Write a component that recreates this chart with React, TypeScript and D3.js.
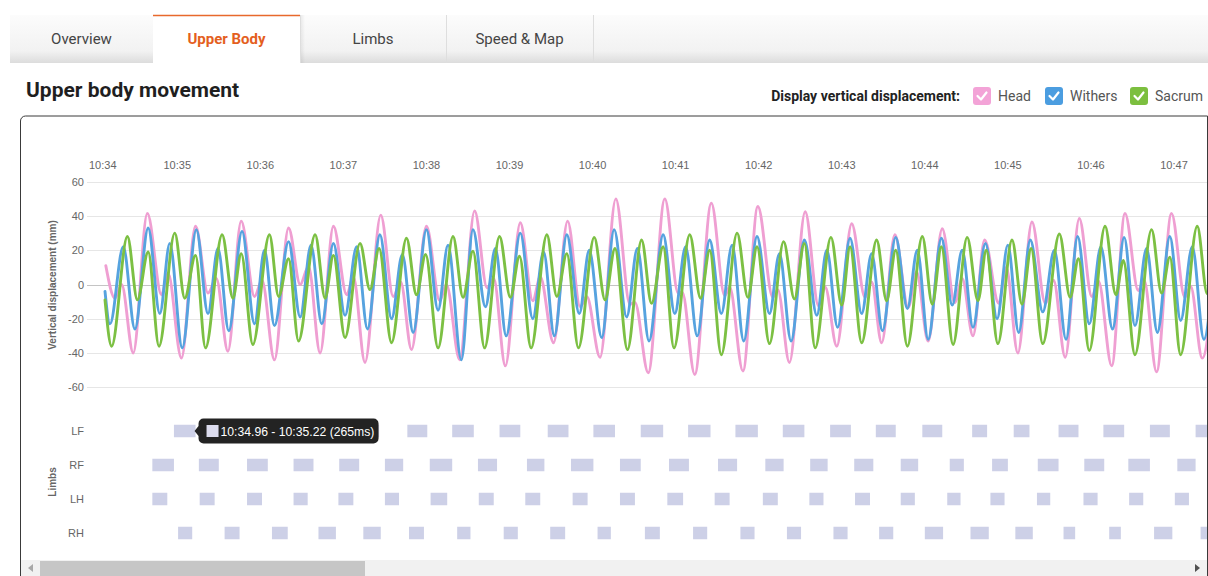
import React from 'react';
import * as d3 from 'd3';

// ---------- DATA ----------
const tabLabels = ['Overview', 'Upper Body', 'Limbs', 'Speed & Map'];
const activeTab = 'Upper Body';
const legendTitle = 'Display vertical displacement:';
const seriesNames = ['Head', 'Withers', 'Sacrum'];
const seriesColors = ['#ef9fd2', '#56a3df', '#7cc043'];
const checkboxColors = ['#f3a3d7', '#4b9de0', '#7cbf3f'];
const timeTickLabels = ['10:34', '10:35', '10:36', '10:37', '10:38', '10:39', '10:40', '10:41', '10:42', '10:43', '10:44', '10:45', '10:46', '10:47'];
const yTickValues = [60, 40, 20, 0, -20, -40, -60];
const limbNames = ['LF', 'RF', 'LH', 'RH'];
const tooltipText = '10:34.96 - 10:35.22 (265ms)';

// time (seconds) , vertical displacement (mm)
const headSeries: [number, number][] = [
  [634.14, 11], [634.25, -8], [634.33, 0], [634.47, -40], [634.64, 41.5], [634.81, -6], [634.89, 6.5], [635.05, -43],
  [635.22, 34], [635.37, -5], [635.47, 3.5], [635.61, -39], [635.77, 37], [635.93, -7], [636.02, 2.5], [636.17, -44],
  [636.34, 33], [636.48, 0], [636.58, 10.5], [636.72, -40], [636.88, 34], [637.04, -6], [637.12, 4.5], [637.26, -45.5],
  [637.45, 40.5], [637.6, -7], [637.69, 1.5], [637.82, -38], [638.0, 34], [638.16, -9.5], [638.24, 0], [638.4, -44],
  [638.58, 43], [638.73, -2], [638.81, 3.5], [638.95, -47.5], [639.13, 36], [639.28, -9.5], [639.37, 4.5], [639.53, -34],
  [639.7, 37], [639.85, -13], [639.93, -7], [640.09, -42.5], [640.28, 50], [640.45, -11.5], [640.51, -10.5], [640.67, -51.5],
  [640.87, 50], [641.03, -5], [641.08, -4.5], [641.23, -52.5], [641.43, 47.5], [641.59, -6.5], [641.65, -1.5], [641.81, -50.5],
  [641.99, 45.5], [642.17, -7.5], [642.23, -3], [642.37, -45.5], [642.56, 42.5], [642.72, -12.5], [642.8, -1.5], [642.94, -36],
  [643.12, 35.5], [643.28, -7.5], [643.36, 1.5], [643.48, -34], [643.64, 29], [643.8, -13.5], [643.9, 7.5], [644.04, -33],
  [644.21, 32.5], [644.36, -10.5], [644.45, 3.5], [644.58, -30], [644.72, 26], [644.89, -11], [644.98, 10], [645.12, -40],
  [645.29, 36.5], [645.45, -11], [645.55, 2.5], [645.69, -42.5], [645.86, 38.5], [646.01, -7], [646.09, 2], [646.25, -47.5],
  [646.41, 41.5], [646.57, -3.5], [646.64, 2.5], [646.79, -51], [646.97, 41.5], [647.13, -7.5], [647.2, -1], [647.34, -43],
  [647.53, 38],
];

const withersSeries: [number, number][] = [
  [634.13, -4], [634.19, -23], [634.35, 22], [634.49, -26], [634.65, 33], [634.79, -17], [634.91, 24], [635.06, -37],
  [635.23, 32], [635.37, -17], [635.49, 21], [635.62, -27], [635.78, 31], [635.93, -23], [636.05, 20], [636.17, -24],
  [636.34, 25], [636.48, -19], [636.61, 23], [636.74, -23], [636.88, 24], [637.02, -18], [637.16, 22], [637.29, -26],
  [637.44, 29], [637.58, -20], [637.71, 17.5], [637.84, -28], [638.0, 32], [638.14, -15], [638.26, 23], [638.42, -44],
  [638.56, 32], [638.71, -13], [638.83, 21], [638.96, -30], [639.13, 30], [639.28, -20], [639.41, 19], [639.54, -30],
  [639.69, 29], [639.84, -17], [639.96, 20], [640.11, -31], [640.26, 32], [640.41, -19], [640.54, 21], [640.68, -33],
  [640.85, 29], [640.99, -17], [641.12, 22], [641.26, -30], [641.41, 26], [641.55, -17], [641.68, 23], [641.82, -33],
  [641.98, 28], [642.13, -17], [642.25, 18], [642.39, -33], [642.55, 26], [642.7, -18], [642.82, 20], [642.95, -25],
  [643.1, 27], [643.24, -17], [643.36, 18], [643.49, -27], [643.65, 27.5], [643.79, -14], [643.91, 20], [644.04, -32],
  [644.2, 27], [644.33, -12], [644.45, 20], [644.58, -25], [644.73, 24], [644.87, -20], [645.0, 23], [645.13, -28],
  [645.27, 26], [645.42, -16], [645.56, 20], [645.7, -32], [645.84, 28], [645.98, -23], [646.12, 22], [646.26, -26],
  [646.4, 27.5], [646.53, -24], [646.67, 21], [646.8, -28], [646.95, 28], [647.08, -21], [647.22, 22], [647.36, -32],
  [647.5, 28],
];

const sacrumSeries: [number, number][] = [
  [634.13, -9], [634.21, -36], [634.4, 28], [634.52, -9], [634.65, 19], [634.78, -36], [634.97, 30], [635.09, -8],
  [635.22, 17], [635.34, -37], [635.54, 29], [635.67, -8], [635.77, 18], [635.91, -35], [636.11, 29], [636.22, -7],
  [636.34, 15], [636.46, -33], [636.66, 29], [636.78, -8], [636.88, 17], [637.02, -31], [637.2, 24], [637.32, -3],
  [637.43, 21], [637.58, -34], [637.76, 27], [637.88, -6], [637.99, 17.5], [638.14, -37], [638.32, 28], [638.44, -7.5],
  [638.56, 19.5], [638.7, -37], [638.88, 28], [639.01, -7.5], [639.12, 16.5], [639.26, -37], [639.45, 29], [639.57, -7],
  [639.69, 18], [639.83, -37], [640.02, 27.5], [640.15, -9], [640.27, 21], [640.42, -38], [640.59, 26], [640.71, -11],
  [640.85, 22], [640.98, -37], [641.17, 29], [641.3, -8], [641.41, 20], [641.55, -41], [641.74, 30], [641.87, -7.5],
  [641.98, 22], [642.13, -34.5], [642.3, 25], [642.43, -8.5], [642.55, 24], [642.68, -37], [642.87, 27.5], [643.0, -12],
  [643.1, 22], [643.24, -34], [643.42, 26], [643.54, -9.5], [643.65, 20], [643.79, -36], [643.97, 28], [644.09, -11.5],
  [644.2, 22], [644.34, -35], [644.51, 27.5], [644.64, -9.5], [644.74, 20], [644.88, -34.5], [645.05, 26], [645.17, -11.5],
  [645.28, 21], [645.42, -34.5], [645.62, 29.5], [645.75, -7.5], [645.85, 15], [645.98, -38.5], [646.17, 34], [646.3, -6],
  [646.39, 14], [646.53, -41], [646.73, 32], [646.85, -5], [646.95, 16], [647.08, -41], [647.28, 34], [647.4, -5.5],
  [647.5, 15],
];

// limb stance intervals [start, end] in seconds
const lfSteps: [number, number][] = [
  [634.96, 635.22], [635.51, 635.78], [636.06, 636.34], [636.64, 636.9], [637.19, 637.43], [637.77, 638.01],
  [638.31, 638.57], [638.88, 639.13], [639.46, 639.71], [640.01, 640.27], [640.58, 640.85], [641.15, 641.42],
  [641.72, 641.99], [642.29, 642.55], [642.86, 643.11], [643.41, 643.65], [643.97, 644.21], [644.57, 644.75],
  [645.07, 645.26], [645.61, 645.85], [646.15, 646.4], [646.71, 646.95], [647.26, 647.54],
];
const rfSteps: [number, number][] = [
  [634.7, 634.96], [635.26, 635.5], [635.84, 636.09], [636.4, 636.64], [636.95, 637.19], [637.5, 637.72],
  [638.04, 638.31], [638.62, 638.85], [639.21, 639.42], [639.74, 640.01], [640.33, 640.58], [640.92, 641.16],
  [641.51, 641.74], [642.08, 642.3], [642.62, 642.83], [643.15, 643.38], [643.71, 643.92], [644.3, 644.47],
  [644.81, 645.0], [645.36, 645.61], [645.92, 646.16], [646.45, 646.71], [647.04, 647.26],
];
const lhSteps: [number, number][] = [
  [634.7, 634.88], [635.27, 635.45], [635.84, 636.02], [636.4, 636.57], [636.94, 637.12], [637.5, 637.67],
  [638.05, 638.25], [638.63, 638.81], [639.19, 639.37], [639.76, 639.94], [640.33, 640.51], [640.9, 641.09],
  [641.47, 641.65], [642.05, 642.23], [642.61, 642.78], [643.16, 643.34], [643.71, 643.88], [644.27, 644.43],
  [644.79, 644.96], [645.35, 645.51], [645.91, 646.08], [646.46, 646.63], [647.01, 647.18],
];
const rhSteps: [number, number][] = [
  [635.01, 635.18], [635.57, 635.75], [636.14, 636.33], [636.7, 636.91], [637.24, 637.45], [637.79, 637.97],
  [638.37, 638.53], [638.93, 639.1], [639.49, 639.67], [640.06, 640.22], [640.63, 640.81], [641.21, 641.38],
  [641.78, 641.95], [642.34, 642.51], [642.9, 643.07], [643.45, 643.62], [644.0, 644.22], [644.55, 644.77],
  [645.09, 645.3], [645.67, 645.81], [646.22, 646.36], [646.76, 646.98], [647.32, 647.54],
];

const seriesData = [headSeries, withersSeries, sacrumSeries];
const limbData = [lfSteps, rfSteps, lhSteps, rhSteps];

function labelToSeconds(s: string) {
  const [m, sec] = s.split(':').map(Number);
  return m * 60 + sec;
}

export default function App() {
  const W = 1208;
  const H = 576;
  const plotLeft = 87;
  const plotRight = 1207;
  const tickSecs = timeTickLabels.map(labelToSeconds);

  const x = d3.scaleLinear().domain([tickSecs[0], tickSecs[tickSecs.length - 1]]).range([94.2, 1174]);
  const y = d3.scaleLinear().domain([-60, 60]).range([387.3, 181.7]);
  const yLimb = d3.scaleBand<string>().domain(limbNames).range([414, 550]);
  const line = d3
    .line<[number, number]>()
    .x((d) => x(d[0]))
    .y((d) => y(d[1]))
    .curve(d3.curveMonotoneX);

  const chartFont = '"Liberation Sans", Arial, sans-serif';
  const uiFont = 'Roboto, "Noto Sans", sans-serif';

  const tabEdges = [10, 153, 300, 446, 593];
  const barH = 12.5;

  // tooltip anchored on hovered LF step
  const hovered = lfSteps[0];
  const tipX = x(hovered[1]) + 2;
  const tipY = yLimb('LF')! + yLimb.bandwidth() / 2;

  const legendX = [973, 1045, 1130];
  const legendTextX = [998, 1070, 1155];

  return (
    <svg
      width={W}
      height={H}
      style={{ position: 'absolute', left: 0, top: 0, display: 'block', background: '#fff' }}
    >
      <defs>
        <linearGradient id="tabGrad" x1="0" y1="0" x2="0" y2="1">
          <stop offset="0" stopColor="#fcfcfc" />
          <stop offset="0.75" stopColor="#f2f2f2" />
          <stop offset="1" stopColor="#dcdcdc" />
        </linearGradient>
        <linearGradient id="tabShadow" x1="0" y1="0" x2="1" y2="0">
          <stop offset="0" stopColor="#000" stopOpacity="0.08" />
          <stop offset="1" stopColor="#000" stopOpacity="0" />
        </linearGradient>
        <clipPath id="plotClip">
          <rect x={plotLeft} y={140} width={plotRight - plotLeft} height={270} />
        </clipPath>
        <clipPath id="limbClip">
          <rect x={plotLeft} y={405} width={plotRight - plotLeft} height={150} />
        </clipPath>
      </defs>

      {/* Tabs */}
      <rect x={10} y={15} width={W - 10} height={48} fill="url(#tabGrad)" />
      {tabLabels.map((t, i) => {
        const x0 = tabEdges[i];
        const x1 = tabEdges[i + 1];
        const active = t === activeTab;
        return (
          <g key={t}>
            {active && <rect x={x0} y={15} width={x1 - x0} height={49} fill="#fff" />}
            {active && <rect x={x1} y={15} width={5} height={48} fill="url(#tabShadow)" />}
            {active && <line x1={x0} x2={x1} y1={15.5} y2={15.5} stroke="#e8692c" strokeWidth={1.5} />}
            <text
              x={(x0 + x1) / 2}
              y={44}
              textAnchor="middle"
              fontFamily={uiFont}
              fontSize={15}
              fontWeight={active ? 700 : 400}
              fill={active ? '#e45f1e' : '#444'}
            >
              {t}
            </text>
          </g>
        );
      })}
      {tabEdges.slice(2).map((e) => (
        <line key={e} x1={e + 0.5} x2={e + 0.5} y1={15} y2={63} stroke="#dedede" />
      ))}

      {/* Title */}
      <text x={26} y={97} fontFamily={uiFont} fontSize={21} fontWeight={700} fill="#1f1f1f">
        Upper body movement
      </text>

      {/* Legend */}
      <text x={960} y={101} textAnchor="end" fontFamily={uiFont} fontSize={14} fontWeight={700} fill="#222">
        {legendTitle}
      </text>
      {seriesNames.map((n, i) => (
        <g key={n}>
          <rect x={legendX[i]} y={87} width={18} height={18} rx={3} fill={checkboxColors[i]} />
          <path
            d={`M${legendX[i] + 4.5},${96} L${legendX[i] + 8},${99.5} L${legendX[i] + 13.5},${92.5}`}
            fill="none"
            stroke="#fff"
            strokeWidth={2.2}
            strokeLinecap="round"
            strokeLinejoin="round"
          />
          <text x={legendTextX[i]} y={101} fontFamily={uiFont} fontSize={14} fill="#555">
            {n}
          </text>
        </g>
      ))}

      {/* Chart box */}
      <path d={`M20.5,${H} V121 a5,5 0 0 1 5,-5 H${plotRight + 0.5} V${H}`} fill="none" stroke="#3a3a3a" strokeWidth={1} />

      {/* Y grid */}
      {yTickValues.map((v) => (
        <g key={v}>
          <line
            x1={plotLeft}
            x2={plotRight}
            y1={Math.round(y(v)) + 0.5}
            y2={Math.round(y(v)) + 0.5}
            stroke={v === 0 ? '#c4c4c4' : '#e6e6e6'}
            strokeWidth={1}
          />
          <text x={84} y={y(v) + 4} textAnchor="end" fontFamily={chartFont} fontSize={11} fill="#666">
            {v}
          </text>
        </g>
      ))}

      {/* X tick labels */}
      {timeTickLabels.map((lab, i) => {
        const px = x(tickSecs[i]);
        const justify = px - 14 < plotLeft;
        return (
          <text
            key={lab}
            x={justify ? plotLeft + 2 : px}
            y={169}
            textAnchor={justify ? 'start' : 'middle'}
            fontFamily={chartFont}
            fontSize={11}
            fill="#666"
          >
            {lab}
          </text>
        );
      })}

      {/* Y axis title */}
      <text
        transform="translate(55.5,285) rotate(-90)"
        textAnchor="middle"
        fontFamily={chartFont}
        fontSize={10}
        fontWeight={700}
        fill="#666"
      >
        Vertical displacement (mm)
      </text>

      {/* Lines */}
      <g clipPath="url(#plotClip)">
        {seriesData.map((s, i) => (
          <path
            key={seriesNames[i]}
            d={line(s) || ''}
            fill="none"
            stroke={seriesColors[i]}
            strokeWidth={2.9}
            strokeLinejoin="round"
            strokeLinecap="round"
          />
        ))}
      </g>

      {/* Limbs */}
      <text
        transform="translate(55.5,482) rotate(-90)"
        textAnchor="middle"
        fontFamily={chartFont}
        fontSize={10}
        fontWeight={700}
        fill="#666"
      >
        Limbs
      </text>
      {limbNames.map((l) => (
        <text
          key={l}
          x={84}
          y={yLimb(l)! + yLimb.bandwidth() / 2 + 4}
          textAnchor="end"
          fontFamily={chartFont}
          fontSize={11}
          fill="#666"
        >
          {l}
        </text>
      ))}
      <g clipPath="url(#limbClip)">
        {limbData.map((steps, i) =>
          steps.map((st, j) => (
            <rect
              key={`${i}-${j}`}
              x={x(st[0])}
              y={yLimb(limbNames[i])! + yLimb.bandwidth() / 2 - barH / 2}
              width={x(st[1]) - x(st[0])}
              height={barH}
              fill="#cdd0e7"
            />
          ))
        )}
      </g>

      {/* Tooltip */}
      <g>
        <path
          d={`M${tipX + 6},${tipY - 12.5} H${tipX + 176} a5,5 0 0 1 5,5 V${tipY + 7.5} a5,5 0 0 1 -5,5 H${tipX + 6} a5,5 0 0 1 -5,-5 V${tipY + 5} L${tipX - 3},${tipY} L${tipX + 1},${tipY - 5} V${tipY - 7.5} a5,5 0 0 1 5,-5 Z`}
          fill="#232323"
        />
        <rect x={tipX + 9} y={tipY - 6} width={12} height={12} fill="#dcdcee" />
        <text x={tipX + 23} y={tipY + 5} fontFamily={chartFont} fontSize={12.2} fill="#fff">
          {tooltipText}
        </text>
      </g>

      {/* Scrollbar */}
      <rect x={21} y={560} width={plotRight - 21} height={16} fill="#f1f1f1" />
      <rect x={40} y={561} width={325} height={15} fill="#c6c6c6" />
      <path d="M33,564 L28,568 L33,572 Z" fill="#a8a8a8" />
      <path d="M1195,564 L1200,568 L1195,572 Z" fill="#505050" />
    </svg>
  );
}
